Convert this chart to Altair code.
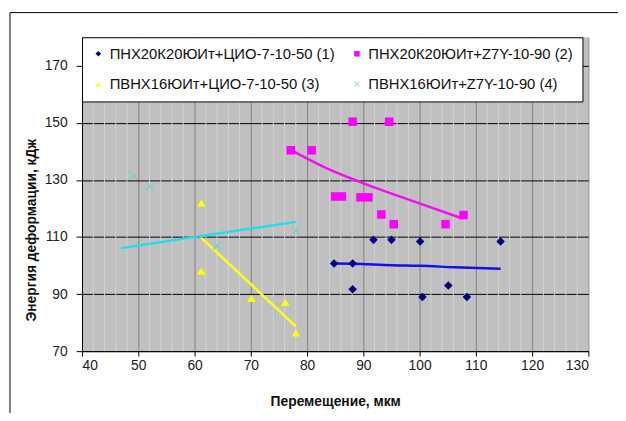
import altair as alt
import pandas as pd

names = ["ПНХ20К20ЮИт+ЦИО-7-10-50 (1)", "ПНХ20К20ЮИт+Z7Y-10-90 (2)",
         "ПВНХ16ЮИт+ЦИО-7-10-50 (3)", "ПВНХ16ЮИт+Z7Y-10-90 (4)"]
marker_colors = ["#000080", "#FF00FF", "#FFFF00", "#66D3D3"]
line_colors = ["#1010F0", "#F010F0", "#FFFF10", "#22DDEE"]

s1_x = [84.8, 88.1, 88.1, 91.8, 95.0, 100.1, 100.5, 105.1, 108.4, 114.4]
s1_y = [100.7, 100.7, 91.7, 109.0, 109.0, 108.4, 89.0, 93.0, 89.0, 108.4]
s2_x = [77.1, 80.8, 88.1, 94.6, 85.0, 86.2, 89.5, 90.9, 93.2, 95.4, 104.6, 107.8]
s2_y = [140.4, 140.4, 150.4, 150.4, 124.2, 124.2, 123.9, 123.9, 117.9, 114.5, 114.5, 117.7]
s3_x = [61.2, 61.2, 70.1, 76.1, 78.0]
s3_y = [121.9, 98.1, 88.5, 87.1, 76.4]
s4_x = [49.1, 52.0, 64.0, 78.0]
s4_y = [131.5, 127.7, 106.9, 112.2]

t1_x = [84.8, 88.1, 95.1, 100.1, 106.2, 114.4]
t1_y = [100.7, 100.6, 100.1, 99.9, 99.4, 98.9]
t2_x = [77.5, 84.0, 89.8, 100.1, 107.6]
t2_y = [140.1, 133.6, 129.0, 121.7, 116.5]
t3_x = [61.1, 78.0]
t3_y = [109.9, 78.7]
t4_x = [46.9, 78.0]
t4_y = [106.1, 115.3]

x_ticks = [40, 50, 60, 70, 80, 90, 100, 110, 120, 130]
y_ticks = [70, 90, 110, 130, 150, 170]
minor_x = [v for v in range(42, 130, 2) if v % 10 != 0]

X_PATH = ("M-1,-0.82L-0.82,-1L0,-0.18L0.82,-1L1,-0.82L0.18,0L1,0.82L0.82,1"
          "L0,0.18L-0.82,1L-1,0.82L-0.18,0Z")
shapes = ["diamond", "square", "triangle-up", X_PATH]

# legend laid out column-major: order entries so rows read (1)(2) / (3)(4)
legend_order = [names[0], names[2], names[1], names[3]]
order_colors = [marker_colors[0], marker_colors[2], marker_colors[1], marker_colors[3]]
order_shapes = [shapes[0], shapes[2], shapes[1], shapes[3]]

pts = []
for nm, xs, ys in zip(names, [s1_x, s2_x, s3_x, s4_x], [s1_y, s2_y, s3_y, s4_y]):
    for a, b in zip(xs, ys):
        pts.append({"series": nm, "x": a, "y": b})
pts = pd.DataFrame(pts)

FONT = "Liberation Sans"
xscale = alt.Scale(domain=[40, 130], nice=False, zero=False)
yscale = alt.Scale(domain=[70, 180], nice=False, zero=False)

xaxis = alt.Axis(values=x_ticks, title="Перемещение, мкм", grid=True,
                 gridColor="#808080", gridWidth=1, gridOpacity=1,
                 domainColor="black", tickColor="black", tickSize=5,
                 labelFontSize=14, labelFont=FONT, labelColor="#222",
                 labelPadding=3, titleFont=FONT, titleFontSize=14,
                 titleFontWeight="bold", titleColor="#111", titlePadding=22)
yaxis = alt.Axis(values=y_ticks, title="Энергия деформации, кДж", grid=True,
                 gridColor="black", gridWidth=1, gridOpacity=1,
                 domainColor="black", tickColor="black", tickSize=6,
                 labelFontSize=14, labelFont=FONT, labelColor="#222",
                 labelPadding=9, titleFont=FONT, titleFontSize=14,
                 titleFontWeight="bold", titleColor="#111", titlePadding=6,
                 titleY=195)

minor = alt.Chart(pd.DataFrame({"m": minor_x})).mark_rule(
    color="#D2D2D2", strokeWidth=1).encode(
    x=alt.X("m:Q", scale=xscale, axis=xaxis))

trend_layers = []
for lc, xs, ys in zip(line_colors, [t1_x, t2_x, t3_x, t4_x], [t1_y, t2_y, t3_y, t4_y]):
    df = pd.DataFrame({"x": xs, "y": ys})
    trend_layers.append(
        alt.Chart(df).mark_line(strokeWidth=2.5, color=lc, interpolate="monotone").encode(
            x=alt.X("x:Q", scale=xscale, axis=xaxis),
            y=alt.Y("y:Q", scale=yscale, axis=yaxis),
        )
    )

points = alt.Chart(pts).mark_point(filled=True, size=75, opacity=1).encode(
    x=alt.X("x:Q", scale=xscale, axis=xaxis),
    y=alt.Y("y:Q", scale=yscale, axis=yaxis),
    color=alt.Color("series:N", scale=alt.Scale(domain=legend_order, range=order_colors),
                    title=None),
    shape=alt.Shape("series:N", scale=alt.Scale(domain=legend_order, range=order_shapes),
                    title=None),
)

one = pd.DataFrame({"a": [0]})
frame_v = alt.Chart(one).mark_rule(color="black", strokeWidth=1).encode(
    x=alt.value(-73), y=alt.value(-25), y2=alt.value(410))
frame_h = alt.Chart(one).mark_rule(color="black", strokeWidth=1).encode(
    x=alt.value(-73), x2=alt.value(560), y=alt.value(-25))

chart = alt.layer(minor, *trend_layers, points, frame_v, frame_h).properties(
    width=513, height=318,
    autosize=alt.AutoSizeParams(type="none"),
    padding={"left": 75, "top": 27, "right": 30, "bottom": 60},
    background="white",
).configure_view(fill="#C0C0C0", stroke=None).configure_legend(
    orient="none", legendX=0, legendY=0, columns=2,
    fillColor="white", strokeColor="black", padding=9,
    rowPadding=15, columnPadding=14, labelFontSize=15, labelFont=FONT,
    labelColor="#111", symbolSize=32, labelOffset=4, labelLimit=400,
)

chart.save("out.html", embed_options={"renderer": "svg", "actions": False})
